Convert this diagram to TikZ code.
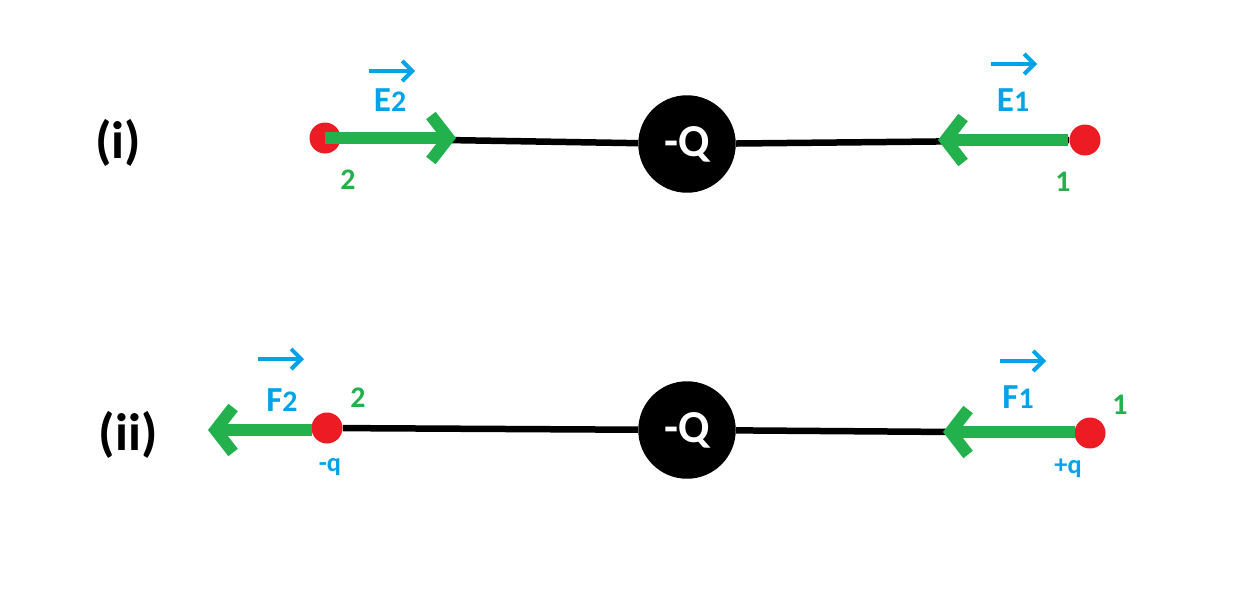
\documentclass[tikz,border=0pt]{standalone}
\usepackage{fontspec}
\setmainfont{Carlito}
\usetikzlibrary{positioning,arrows.meta}
\definecolor{fgreen}{RGB}{34,177,76}
\definecolor{fred}{RGB}{237,28,36}
\definecolor{fblue}{RGB}{0,162,232}
\tikzset{
  charge/.style = {circle,fill=fred,inner sep=0pt,minimum size=0.62cm},
  source/.style = {circle,fill=black,inner sep=0pt,minimum size=1.95cm,text=white,font=\fontsize{26}{28}\selectfont\bfseries},
  field/.style = {draw=fgreen,line width=2.4mm,-{Straight Barb[length=3.5mm,width=9mm,line width=2.4mm]}},
  vec/.style = {draw=fblue,line width=0.8mm,-{Straight Barb[length=2mm,width=4mm]}},
  lbl/.style = {text=fblue,font=\fontsize{20}{22}\selectfont\bfseries},
  num/.style = {text=fgreen,font=\fontsize{17}{19}\selectfont\bfseries},
  qlbl/.style = {text=fblue,font=\fontsize{15}{17}\selectfont\bfseries},
  row/.style = {font=\fontsize{30}{32}\selectfont\bfseries}
}
\begin{document}
\begin{tikzpicture}[x=0.02cm,y=-0.02cm]
        \useasboundingbox (0,0) rectangle (1250,592);
        % (i)
        \node [row] (rowA) at (118,143) {(i)};
        \node [charge] (A2) at (325,138) {};
        \node [charge] (A1) at (1085,140) {};
        \node [source] (QA) at (687,144) {-Q};
        \draw [line width=1.3mm] (A2) -- (QA) -- (A1);
        \coordinate (EA2) at (456,138);
        \coordinate (EA1) at (938,140);
        \draw [field] (A2.center) -- (EA2);
        \draw [field] (1068,140) -- (EA1);
        \node [lbl] (E2) at (390,100) {E\fontsize{17}{19}\selectfont 2};
        \node [lbl] (E1) at (1013,100) {E\fontsize{17}{19}\selectfont 1};
        \draw [vec] (369,71) -- (415,71);
        \draw [vec] (991,64) -- (1037,64);
        \node [num] (nA2) at (348,180) {2};
        \node [num] (nA1) at (1063,182) {1};
        % (ii)
        \node [row] (rowB) at (128,435) {(ii)};
        \node [charge] (B2) at (327,428) {};
        \node [charge] (B1) at (1090,433) {};
        \node [source] (QB) at (687,430) {-Q};
        \draw [line width=1.3mm] (B2) -- (QB) -- (B1);
        \coordinate (FB2) at (208,430);
        \coordinate (FB1) at (943,432);
        \draw [field] (312,430) -- (FB2);
        \draw [field] (1075,432) -- (FB1);
        \node [lbl] (F2) at (282,400) {F\fontsize{17}{19}\selectfont 2};
        \node [lbl] (F1) at (1018,397) {F\fontsize{17}{19}\selectfont 1};
        \draw [vec] (258,359) -- (304,359);
        \draw [vec] (1000,361) -- (1046,361);
        \node [num] (nB2) at (358,398) {2};
        \node [num] (nB1) at (1120,405) {1};
        \node [qlbl] (qB2) at (330,467) {-q};
        \node [qlbl] (qB1) at (1068,468) {+q};
\end{tikzpicture}
\end{document}
